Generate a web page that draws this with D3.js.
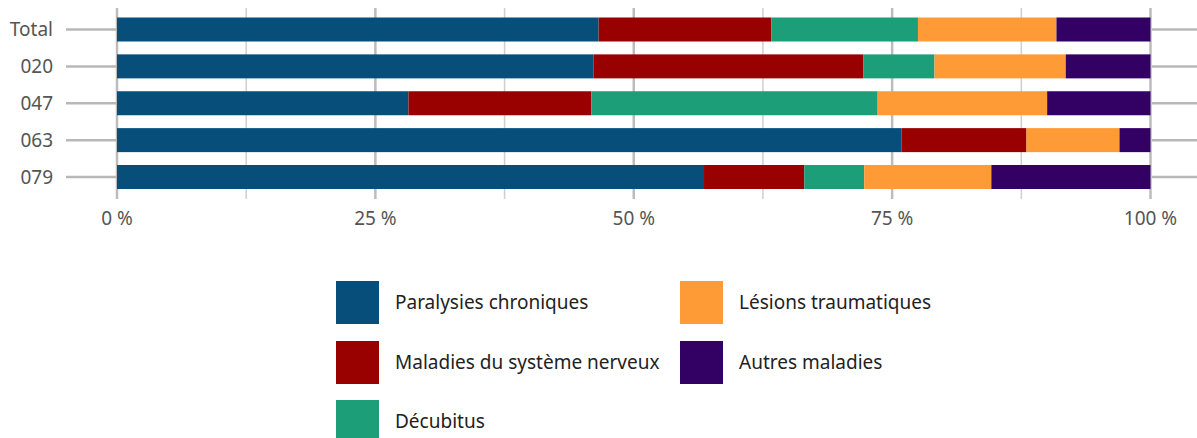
<!DOCTYPE html>
<html lang="fr">
<head>
    <meta charset="UTF-8">
    <title>Causes</title>
    <script src="https://cdn.jsdelivr.net/npm/d3@7"></script>
    <style>
        body { margin: 0; background: #fff; }
        text { font-family: "Noto Sans", "Open Sans", sans-serif; }
    </style>
</head>
<body>
    <svg id="mainsvg" width="1197" height="438"></svg>
    <script>
        const categories = ["Total", "020", "047", "063", "079"];
        const series = ["Paralysies chroniques", "Maladies du système nerveux", "Décubitus",
            "Lésions traumatiques", "Autres maladies"];
        const colors = ["#074f7a", "#990000", "#1c9e78", "#ff9b37", "#330063"];
        // share of each cause, percent, one array per series (in category order)
        const paralysies = [46.6, 46.1, 28.2, 75.9, 56.8];
        const systemeNerveux = [16.7, 26.1, 17.7, 12.1, 9.7];
        const decubitus = [14.2, 6.9, 27.7, 0, 5.8];
        const lesions = [13.4, 12.7, 16.4, 9.0, 12.3];
        const autres = [9.1, 8.2, 10.0, 3.0, 15.4];
        const xTicks = [0, 12.5, 25, 37.5, 50, 62.5, 75, 87.5, 100];

        const keys = ["p", "n", "d", "l", "a"];
        const table = categories.map((c, i) => ({
            cat: c, p: paralysies[i], n: systemeNerveux[i], d: decubitus[i], l: lesions[i], a: autres[i]
        }));
        const stacked = d3.stack().keys(keys)(table);

        const svg = d3.select("#mainsvg");
        const x = d3.scaleLinear().domain([0, 100]).range([117, 1150.5]);
        const y = d3.scalePoint().domain(categories).range([29.5, 177]);
        const barH = 24;

        // grid
        svg.append("g").selectAll("line").data(xTicks).join("line")
            .attr("x1", d => x(d)).attr("x2", d => x(d))
            .attr("y1", 8).attr("y2", 199)
            .attr("stroke", d => d % 25 === 0 ? "#bcbcbc" : "#cfcfcf")
            .attr("stroke-width", d => d % 25 === 0 ? 2.5 : 1.5);

        // category ticks both sides
        const tk = svg.append("g");
        tk.selectAll(".lt").data(categories).join("line")
            .attr("x1", 66).attr("x2", 117)
            .attr("y1", d => y(d)).attr("y2", d => y(d))
            .attr("stroke", "#b8b8b8").attr("stroke-width", 2.5);
        tk.selectAll(".rt").data(categories).join("line").attr("class", "rt")
            .attr("x1", 1152).attr("x2", 1197)
            .attr("y1", d => y(d)).attr("y2", d => y(d))
            .attr("stroke", "#b8b8b8").attr("stroke-width", 2.5);

        // bars
        svg.append("g").selectAll("g").data(stacked).join("g")
            .attr("fill", (s, i) => colors[i])
            .selectAll("rect").data(s => s).join("rect")
            .attr("x", d => x(d[0]))
            .attr("width", d => x(d[1]) - x(d[0]))
            .attr("y", d => y(d.data.cat) - barH / 2)
            .attr("height", barH);

        // labels
        svg.append("g").selectAll("text").data(categories).join("text")
            .attr("x", 53).attr("y", d => y(d)).attr("dy", "0.35em")
            .attr("text-anchor", "end").attr("font-size", 19).attr("fill", "#555")
            .text(d => d);

        svg.append("g").selectAll("text").data(xTicks.filter(t => t % 25 === 0)).join("text")
            .attr("x", d => x(d)).attr("y", 218).attr("dy", "0.35em")
            .attr("text-anchor", "middle").attr("font-size", 19).attr("fill", "#555")
            .text(d => d + " %");

        // legend
        const legPos = [[336, 281], [336, 341], [336, 400], [680, 281], [680, 341]];
        const order = [0, 1, 2, 3, 4];
        const leg = svg.append("g").selectAll("g").data(order).join("g")
            .attr("transform", i => `translate(${legPos[i][0]},${legPos[i][1]})`);
        leg.append("rect").attr("width", 43).attr("height", 43).attr("fill", i => colors[i]);
        leg.append("text").attr("x", 59).attr("y", 21.5).attr("dy", "0.35em")
            .attr("font-size", 19).attr("fill", "#222").text(i => series[i]);
    </script>
</body>
</html>
